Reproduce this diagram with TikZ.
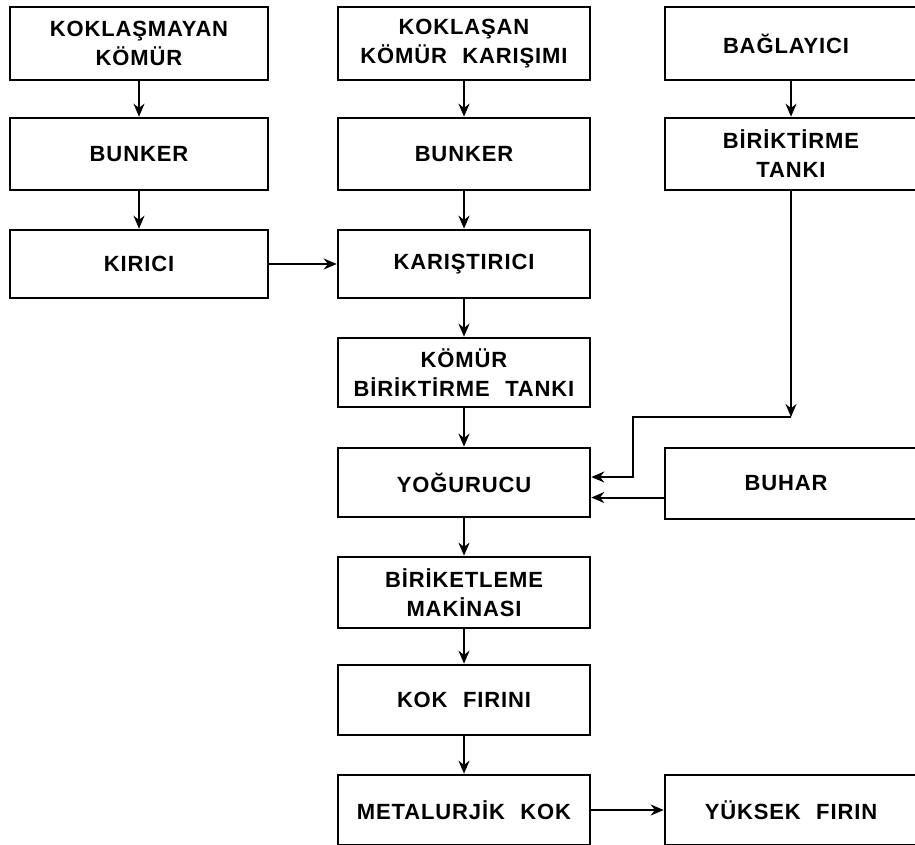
\documentclass[tikz,border=0pt]{standalone}
\usepackage{fontspec}
\setmainfont{Liberation Sans}[LetterSpace=4]
\usetikzlibrary{arrows.meta}
\tikzset{
  box/.style={draw, line width=2.6pt, minimum height=70pt, align=center,
    font=\bfseries\fontsize{22}{29}\selectfont, inner sep=0pt},
  leftbox/.style={box, minimum width=258pt},
  midbox/.style={box, minimum width=252pt},
  rightbox/.style={box, minimum width=252pt},
  arr/.style={line width=2pt, -{Stealth[length=13pt,width=11pt]}},
}
\newcommand{\wgap}{\hspace{0.7em}}

\begin{document}
\begin{tikzpicture}[x=1pt,y=-1pt]
\useasboundingbox (0,0) rectangle (915,845);
\clip (0,0) rectangle (915,845);

% left column: non-coking coal
\node[leftbox, minimum height=73pt] (nc)   at (139,43.5) {KOKLAŞMAYAN\\KÖMÜR};
\node[leftbox, minimum height=72pt] (bun1) at (139,154)  {BUNKER};
\node[leftbox, minimum height=68pt] (kir)  at (139,264)  {KIRICI};

% middle column: main line
\node[midbox, minimum height=73pt] (cb)   at (464,43.5)  {KOKLAŞAN\\KÖMÜR\wgap KARIŞIMI};
\node[midbox, minimum height=72pt] (bun2) at (464,154)   {BUNKER};
\node[midbox, minimum height=68pt] (mix)  at (464,264)   {KARIŞTIRICI};
\node[midbox, minimum height=69pt] (ctank) at (464,372.5) {KÖMÜR\\BİRİKTİRME\wgap TANKI};
\node[midbox, minimum height=69pt] (yog)  at (464,482.5) {YOĞURUCU};
\node[midbox, minimum height=71pt] (bri)  at (464,592.5) {BİRİKETLEME\\MAKİNASI};
\node[midbox, minimum height=70pt] (kok)  at (464,700)   {KOK\wgap FIRINI};
\node[midbox, minimum height=70pt] (met)  at (464,810)   {METALURJİK\wgap KOK};

% right column: binder, steam, blast furnace (cut by the page edge)
\node[rightbox, minimum height=73pt] (bag)  at (791,43.5)  {BAĞLAYICI\hspace{10pt}};
\node[rightbox, minimum height=72pt] (btank) at (791,154)  {BİRİKTİRME\hspace{10pt}\\TANKI\hspace{10pt}};
\node[rightbox, minimum height=71pt] (buh)  at (791,483.5) {BUHAR\hspace{10pt}};
\node[rightbox, minimum height=70pt] (yf)   at (791,810)   {YÜKSEK\wgap FIRIN};

% vertical flow arrows
\draw[arr] (nc) -- (bun1);
\draw[arr] (bun1) -- (kir);
\draw[arr] (cb) -- (bun2);
\draw[arr] (bun2) -- (mix);
\draw[arr] (mix) -- (ctank);
\draw[arr] (ctank) -- (yog);
\draw[arr] (yog) -- (bri);
\draw[arr] (bri) -- (kok);
\draw[arr] (kok) -- (met);
\draw[arr] (bag) -- (btank);

% horizontal arrows
\draw[arr] (kir) -- (mix);
\draw[arr] (met) -- (yf);
\draw[arr] ([yshift=-14pt]buh.west) -- ([yshift=-14pt]buh.west -| yog.east);

% binder line into the kneader
\coordinate (bend) at (791,417);
\coordinate (jog) at (633,477);
\draw[arr] (btank) -- (bend);
\draw[arr] (bend) -| (jog) -- (jog -| yog.east);
\end{tikzpicture}
\end{document}
